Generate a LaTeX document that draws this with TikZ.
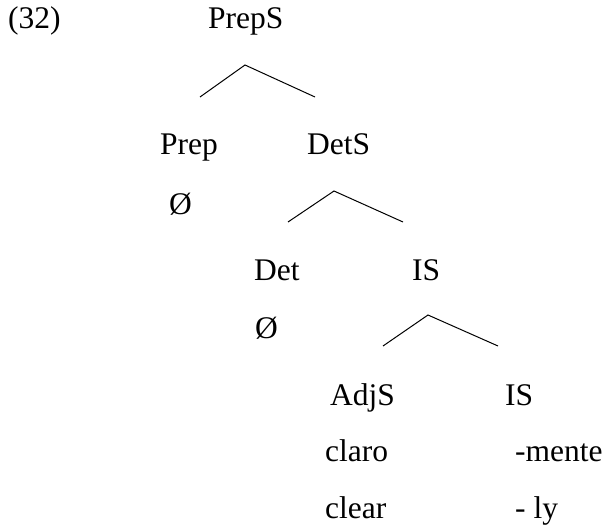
\documentclass[tikz,border=0pt]{standalone}
\usepackage{fontspec}
\setmainfont{Liberation Serif}
\begin{document}
\begin{tikzpicture}[x=1pt,y=-1pt,
  lbl/.style={anchor=base west, inner sep=0pt, font=\fontsize{31.5}{36}\selectfont},
  branch/.style={line width=1pt, line join=miter}]
\useasboundingbox[fill=white] (0,0) rectangle (604,526);

% example number and root
\node[lbl] (num) at (8,29) {(32)};
\node[lbl] (preps) at (208,29) {PrepS};

% first level
\node[lbl] (prep) at (160,155) {Prep};
\node[lbl] (dets) at (307,155) {DetS};
\node[lbl] (null1) at (169,215) {Ø};

% second level
\node[lbl] (det) at (254,280) {Det};
\node[lbl] (is1) at (412,280) {IS};
\node[lbl] (null2) at (255,338) {Ø};

% third level
\node[lbl] (adjs) at (330,405) {AdjS};
\node[lbl] (is2) at (505,405) {IS};
\node[lbl] (claro) at (325,461) {claro};
\node[lbl] (mente) at (515,461) {-mente};
\node[lbl] (clear) at (325,518) {clear};
\node[lbl] (ly) at (515,518) {- ly};

% branching points
\coordinate (a1) at (245,65);
\coordinate (l1) at (200,97);
\coordinate (r1) at (315,97);
\coordinate (a2) at (334,191);
\coordinate (l2) at (288,222);
\coordinate (r2) at (403,222);
\coordinate (a3) at (428,315);
\coordinate (l3) at (383,346);
\coordinate (r3) at (498,346);

\draw[branch] (l1) -- (a1) -- (r1);
\draw[branch] (l2) -- (a2) -- (r2);
\draw[branch] (l3) -- (a3) -- (r3);
\end{tikzpicture}
\end{document}
